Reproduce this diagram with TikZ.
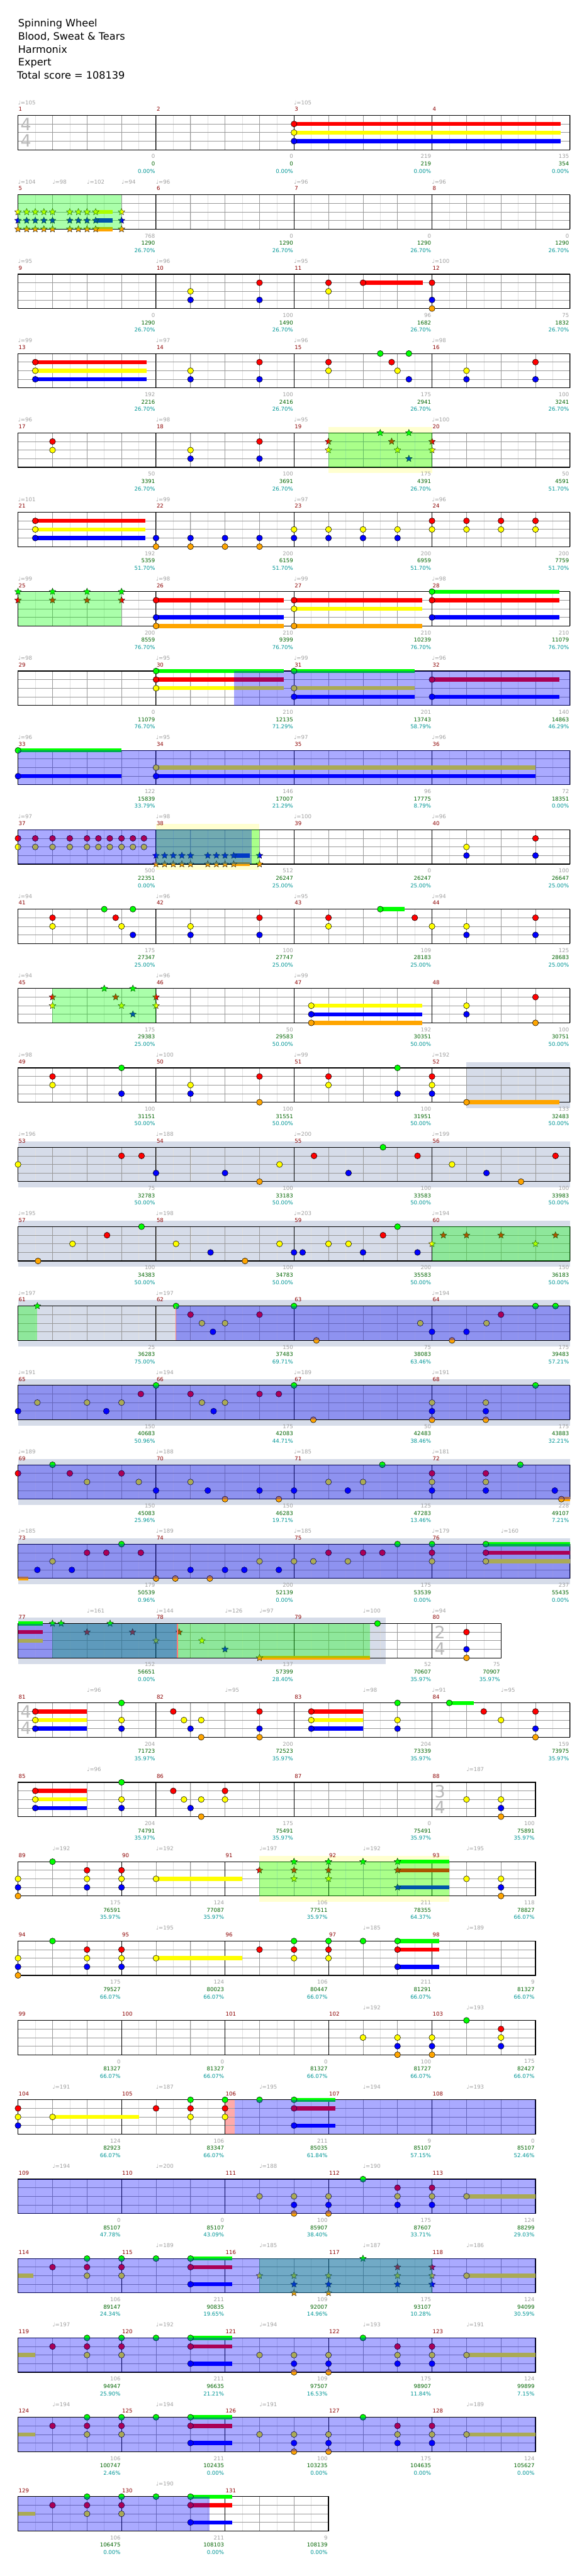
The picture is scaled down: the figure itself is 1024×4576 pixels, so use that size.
\documentclass[tikz,border=0pt]{standalone}
\usepackage{fontspec}
\setmainfont{DejaVu Sans}
\usetikzlibrary{shapes.geometric}

\definecolor{lane0}{RGB}{0,255,0}
\definecolor{lane1}{RGB}{255,0,0}
\definecolor{lane2}{RGB}{255,255,0}
\definecolor{lane3}{RGB}{0,0,255}
\definecolor{lane4}{RGB}{255,165,0}
\definecolor{subgrid}{RGB}{224,224,224}
\definecolor{maingrid}{RGB}{153,153,153}
\definecolor{fillband}{RGB}{214,220,233}
\definecolor{soloband}{RGB}{255,255,208}
\definecolor{actband}{RGB}{255,170,170}
\definecolor{numred}{RGB}{140,0,0}
\definecolor{gaingray}{RGB}{160,160,160}
\definecolor{scoregreen}{RGB}{0,100,0}
\definecolor{pctteal}{RGB}{0,150,150}

\newcommand\lblfont{\fontsize{9.6}{11}\selectfont}

\tikzset{
  row/.style={shift={(32pt,{-205pt-141pt*#1})}, x=61.25pt, y=-15.25pt},
  note/.style={draw=black, line width=0.6pt},
  starnote/.style={star, star points=5, star point ratio=2.2, minimum size=12.5pt,
    inner sep=0pt, draw=black, line width=0.4pt},
  sustain/.style={line width=7.2pt},
  mnum/.style={anchor=west, inner sep=0pt, xshift=1pt, yshift=11pt, text=numred, font=\lblfont},
  tempo/.style={anchor=west, inner sep=0pt, yshift=23pt, text=gaingray, font=\lblfont},
  gain/.style={anchor=east, inner sep=0pt, xshift=-1.5pt, yshift=-12pt, text=gaingray, font=\lblfont},
  total/.style={anchor=east, inner sep=0pt, xshift=-1.5pt, yshift=-25pt, text=scoregreen, font=\lblfont},
  pct/.style={anchor=east, inner sep=0pt, xshift=-1.5pt, yshift=-38pt, text=pctteal, font=\lblfont},
  tsig/.style={inner sep=0pt, xshift=14pt, text=gray!55, font=\fontsize{30}{30}\selectfont},
  title/.style={anchor=base west, inner sep=0pt, font=\fontsize{18}{22}\selectfont},
}

\newcommand\grid[2]{%
  \pgfmathtruncatemacro\nh{2*#1}
  \foreach \i in {1,...,\nh} \draw[subgrid, line width=0.6pt] (\i/2,0) -- (\i/2,4);
  \foreach \l in {1,2,3} \draw[maingrid, line width=0.8pt] (0,\l) -- (#1,\l);
  \foreach \i in {1,...,#1} \draw[maingrid, line width=0.8pt] (\i,0) -- (\i,4);
  \foreach \i in {#2} \draw[black, line width=1pt] (\i,0) -- (\i,4);
  \draw[black, line width=1.3pt] (0,0) rectangle (#1,4);
}
\newcommand\nt[2]{\foreach \nb in {#1} \foreach \nl in {#2}
  \draw[note, fill=lane\nl] (\nb,\nl) circle[radius=5.3pt];}
\newcommand\st[2]{\foreach \nb in {#1} \foreach \nl in {#2}
  \node[starnote, fill=lane\nl] at (\nb,\nl) {};}
\newcommand\sus[3]{\foreach \nl in {#3} \draw[sustain, lane\nl] (#1,\nl) -- (#2,\nl);}
\newcommand\band[3]{\fill[#3] (#1,-0.69) rectangle (#2,4.69);}
\newcommand\phrase[2]{\fill[lane0, opacity=0.333] (#1,0) rectangle (#2,4);}
\newcommand\od[2]{\fill[blue, opacity=0.333] (#1,0) rectangle (#2,4);}
\newcommand\actline[1]{\draw[actband!70!red, line width=1.5pt] (#1,0) -- (#1,4);}
\newcommand\tsig[3]{\node[tsig] at (#1,1.05) {#2}; \node[tsig] at (#1,2.95) {#3};}
\newcommand\tempos[1]{\foreach \pos/\bpm in {#1} \node[tempo] at (\pos,0) {♩=\bpm};}
\newcommand\meas[6]{%
  \node[mnum] (m#3) at (#1,0) {#3};
  \node[gain] (g#3) at (#2,4) {#4};
  \node[total] (t#3) at (#2,4) {#5};
  \node[pct] (p#3) at (#2,4) {#6};}

\begin{document}
\begin{tikzpicture}
\useasboundingbox (0,0) rectangle (1024pt,-4576pt);
\fill[white] (0,0) rectangle (1024pt,-4576pt);

\node[title] (song) at (32pt,-48pt) {Spinning Wheel};
\node[title] (artist) at (32pt,-71pt) {Blood, Sweat \& Tears};
\node[title] (charter) at (32pt,-94pt) {Harmonix};
\node[title] (level) at (32pt,-117pt) {Expert};
\node[title] (score) at (30pt,-140pt) {Total score = 108139};

% 1-4
\begin{scope}[row=0]
\grid{16}{4,8,12}
\tsig{0}{4}{4}
\sus{8}{15.72}{1,2,3}
\nt{8}{1,2,3}
\tempos{0/105,8/105}
\meas{0}{4}{1}{0}{0}{0.00\%}
\meas{4}{8}{2}{0}{0}{0.00\%}
\meas{8}{12}{3}{219}{219}{0.00\%}
\meas{12}{16}{4}{135}{354}{0.00\%}
\end{scope}

% 5-8
\begin{scope}[row=1]
\grid{16}{4,8,12}
\sus{2.25}{2.74}{2,3,4}
\st{0,0.25,0.5,0.75,1,1.5,1.75,2,2.25,3}{2,3,4}
\phrase{0}{3}
\tempos{0/104,1/98,2/102,3/94,4/96,8/96,12/96}
\meas{0}{4}{5}{768}{1290}{26.70\%}
\meas{4}{8}{6}{0}{1290}{26.70\%}
\meas{8}{12}{7}{0}{1290}{26.70\%}
\meas{12}{16}{8}{0}{1290}{26.70\%}
\end{scope}

% 9-12
\begin{scope}[row=2]
\grid{16}{4,8,12}
\sus{10}{11.74}{1}
\nt{5}{2,3} \nt{7}{1,3} \nt{9}{1,2} \nt{10}{1} \nt{12}{1,3,4}
\tempos{0/95,4/96,8/95,12/100}
\meas{0}{4}{9}{0}{1290}{26.70\%}
\meas{4}{8}{10}{100}{1490}{26.70\%}
\meas{8}{12}{11}{96}{1682}{26.70\%}
\meas{12}{16}{12}{75}{1832}{26.70\%}
\end{scope}

% 13-16
\begin{scope}[row=3]
\grid{16}{4,8,12}
\sus{0.5}{3.73}{1,2,3}
\nt{0.5}{1,2,3} \nt{5,13}{2,3} \nt{7,15}{1,3} \nt{9}{1,2}
\nt{10.5}{0} \nt{10.83}{1} \nt{11}{2} \nt{11.33}{0,3}
\tempos{0/99,4/97,8/96,12/98}
\meas{0}{4}{13}{192}{2216}{26.70\%}
\meas{4}{8}{14}{100}{2416}{26.70\%}
\meas{8}{12}{15}{175}{2941}{26.70\%}
\meas{12}{16}{16}{100}{3241}{26.70\%}
\end{scope}

% 17-20
\begin{scope}[row=4]
\band{9}{12}{soloband}
\grid{16}{4,8,12}
\nt{1}{1,2} \nt{5}{2,3} \nt{7}{1,3}
\st{9,12}{1,2} \st{10.5}{0} \st{10.83}{1} \st{11}{2} \st{11.33}{0,3}
\phrase{9}{12}
\tempos{0/96,4/98,8/95,12/100}
\meas{0}{4}{17}{50}{3391}{26.70\%}
\meas{4}{8}{18}{100}{3691}{26.70\%}
\meas{8}{12}{19}{175}{4391}{26.70\%}
\meas{12}{16}{20}{50}{4591}{51.70\%}
\end{scope}

% 21-24
\begin{scope}[row=5]
\grid{16}{4,8,12}
\sus{0.5}{3.7}{1,2,3}
\nt{0.5}{1,2,3} \nt{4,5,6,7}{3,4} \nt{8,9,10,11}{2,3} \nt{12,13,14,15}{1,2}
\tempos{0/101,4/99,8/97,12/96}
\meas{0}{4}{21}{192}{5359}{51.70\%}
\meas{4}{8}{22}{200}{6159}{51.70\%}
\meas{8}{12}{23}{200}{6959}{51.70\%}
\meas{12}{16}{24}{200}{7759}{51.70\%}
\end{scope}

% 25-28
\begin{scope}[row=6]
\grid{16}{4,8,12}
\sus{4}{7.7}{1,3,4} \sus{8}{11.71}{1,2,4} \sus{12}{15.7}{0,1,3}
\st{0,1,2,3}{0,1}
\nt{4}{1,3,4} \nt{8}{1,2,4} \nt{12}{0,1,3}
\phrase{0}{3}
\tempos{0/99,4/98,8/99,12/98}
\meas{0}{4}{25}{200}{8559}{76.70\%}
\meas{4}{8}{26}{210}{9399}{76.70\%}
\meas{8}{12}{27}{210}{10239}{76.70\%}
\meas{12}{16}{28}{210}{11079}{76.70\%}
\end{scope}

% 29-32
\begin{scope}[row=7]
\grid{16}{4,8,12}
\sus{4}{7.7}{0,1,2} \sus{8}{11.49}{0,2,3} \sus{12}{15.7}{1,3}
\nt{4}{0,1,2} \nt{8}{0,2,3} \nt{12}{1,3}
\od{6.26}{16}
\tempos{0/98,4/95,8/99,12/96}
\meas{0}{4}{29}{0}{11079}{76.70\%}
\meas{4}{8}{30}{210}{12135}{71.29\%}
\meas{8}{12}{31}{201}{13743}{58.79\%}
\meas{12}{16}{32}{140}{14863}{46.29\%}
\end{scope}

% 33-36
\begin{scope}[row=8]
\grid{16}{4,8,12}
\sus{0}{3}{0,3} \sus{4}{15}{2,3}
\nt{0}{0,3} \nt{4}{2,3}
\od{0}{16}
\tempos{0/96,4/95,8/97,12/96}
\meas{0}{4}{33}{122}{15839}{33.79\%}
\meas{4}{8}{34}{146}{17007}{21.29\%}
\meas{8}{12}{35}{96}{17775}{8.79\%}
\meas{12}{16}{36}{72}{18351}{0.00\%}
\end{scope}

% 37-40
\begin{scope}[row=9]
\band{4}{7}{soloband}
\grid{16}{4,8,12}
\nt{0,0.5,1,1.5,2,2.33,2.66,3,3.33,3.65}{1,2}
\sus{6.25}{6.72}{3,4}
\st{4,4.25,4.5,4.75,5,5.5,5.75,6,6.25,7}{3,4}
\nt{13}{2,3} \nt{15}{1,3}
\phrase{4}{7}
\od{0}{6.78}
\tempos{0/97,4/98,8/100,12/96}
\meas{0}{4}{37}{500}{22351}{0.00\%}
\meas{4}{8}{38}{512}{26247}{25.00\%}
\meas{8}{12}{39}{0}{26247}{25.00\%}
\meas{12}{16}{40}{100}{26647}{25.00\%}
\end{scope}

% 41-44
\begin{scope}[row=10]
\grid{16}{4,8,12}
\sus{10.5}{11.2}{0}
\nt{1,9}{1,2} \nt{2.5,10.5}{0} \nt{2.83,11.5}{1} \nt{3,12}{2} \nt{3.33}{0,3}
\nt{5,13}{2,3} \nt{7,15}{1,3}
\tempos{0/94,4/96,8/95,12/94}
\meas{0}{4}{41}{175}{27347}{25.00\%}
\meas{4}{8}{42}{100}{27747}{25.00\%}
\meas{8}{12}{43}{109}{28183}{25.00\%}
\meas{12}{16}{44}{125}{28683}{25.00\%}
\end{scope}

% 45-48
\begin{scope}[row=11]
\grid{16}{4,8,12}
\st{1,4}{1,2} \st{2.5}{0} \st{2.83}{1} \st{3}{2} \st{3.33}{0,3}
\phrase{1}{4}
\sus{8.5}{11.71}{2,3,4}
\nt{8.5}{2,3,4} \nt{13}{2,3} \nt{15}{1,4}
\tempos{0/94,4/96,8/99}
\meas{0}{4}{45}{175}{29383}{25.00\%}
\meas{4}{8}{46}{50}{29583}{50.00\%}
\meas{8}{12}{47}{192}{30351}{50.00\%}
\meas{12}{16}{48}{100}{30751}{50.00\%}
\end{scope}

% 49-52
\begin{scope}[row=12]
\band{13}{16}{fillband}
\grid{16}{4,8,12}
\sus{13}{15.7}{4}
\nt{1,9}{1,2} \nt{3,11}{0,3} \nt{5}{2,3} \nt{7}{1,4} \nt{12}{1,2,3} \nt{13}{4}
\tempos{0/98,4/100,8/99,12/192}
\meas{0}{4}{49}{100}{31151}{50.00\%}
\meas{4}{8}{50}{100}{31551}{50.00\%}
\meas{8}{12}{51}{100}{31951}{50.00\%}
\meas{12}{16}{52}{133}{32483}{50.00\%}
\end{scope}

% 53-56
\begin{scope}[row=13]
\band{0}{16}{fillband}
\grid{16}{4,8,12}
\nt{0,7.58,12.58}{2} \nt{3,3.58,8.58,11.58,15.58}{1} \nt{4,6,9.58,13.58}{3}
\nt{7,14.58}{4} \nt{10.58}{0}
\tempos{0/196,4/188,8/200,12/199}
\meas{0}{4}{53}{75}{32783}{50.00\%}
\meas{4}{8}{54}{100}{33183}{50.00\%}
\meas{8}{12}{55}{100}{33583}{50.00\%}
\meas{12}{16}{56}{100}{33983}{50.00\%}
\end{scope}

% 57-60
\begin{scope}[row=14]
\band{0}{16}{fillband}
\grid{16}{4,8,12}
\nt{0.58,6.58}{4} \nt{1.58,4.58,7.58,9,9.58}{2} \nt{2.58,10.58}{1}
\nt{3.58,11}{0} \nt{5.58,8,8.25,10,11.58}{3}
\st{12,15}{2} \st{12.33,13,14,15.58}{1}
\phrase{12}{16}
\tempos{0/195,4/198,8/203,12/194}
\meas{0}{4}{57}{100}{34383}{50.00\%}
\meas{4}{8}{58}{100}{34783}{50.00\%}
\meas{8}{12}{59}{200}{35583}{50.00\%}
\meas{12}{16}{60}{150}{36183}{50.00\%}
\end{scope}

% 61-64
\begin{scope}[row=15]
\band{0}{16}{fillband}
\grid{16}{4,8,12}
\st{0.56}{0}
\nt{4.58,8,15,15.58}{0} \nt{5,7,14}{1} \nt{5.33,6,11.66,13.58}{2}
\nt{5.65,12,13}{3} \nt{8.65,12.58}{4}
\phrase{0}{0.56}
\od{4.58}{16}
\actline{4.58}
\tempos{0/197,4/197,12/194}
\meas{0}{4}{61}{25}{36283}{75.00\%}
\meas{4}{8}{62}{150}{37483}{69.71\%}
\meas{8}{12}{63}{75}{38083}{63.46\%}
\meas{12}{16}{64}{175}{39483}{57.21\%}
\end{scope}

% 65-68
\begin{scope}[row=16]
\band{0}{16}{fillband}
\grid{16}{4,8,12}
\nt{0,2.56,5.67,12,13.56}{3} \nt{0.56,2,3,5.33,6,12,13.56}{2}
\nt{3.56,5,7,7.56}{1} \nt{4,8,15}{0} \nt{8.56,12,13.56}{4}
\od{0}{16}
\tempos{0/191,4/194,8/189,12/191}
\meas{0}{4}{65}{150}{40683}{50.96\%}
\meas{4}{8}{66}{175}{42083}{44.71\%}
\meas{8}{12}{67}{50}{42483}{38.46\%}
\meas{12}{16}{68}{175}{43883}{32.21\%}
\end{scope}

% 69-72
\begin{scope}[row=17]
\band{0}{16}{fillband}
\grid{16}{4,8,12}
\sus{15.75}{16}{4}
\nt{0,1.5,3,12,13.56}{1} \nt{1,10.56,14.56}{0} \nt{2,3.5,5,9,10,12,13.56}{2}
\nt{4,5.5,7,8,9.56,12,13.56,15.56}{3} \nt{6,7.56,15.75}{4}
\od{0}{16}
\tempos{0/189,4/188,8/185,12/181}
\meas{0}{4}{69}{150}{45083}{25.96\%}
\meas{4}{8}{70}{150}{46283}{19.71\%}
\meas{8}{12}{71}{125}{47283}{13.46\%}
\meas{12}{16}{72}{228}{49107}{7.21\%}
\end{scope}

% 73-76
\begin{scope}[row=18]
\band{0}{16}{fillband}
\grid{16}{4,8,12}
\sus{0}{0.29}{4} \sus{13.56}{16}{0,1,2}
\nt{3,11,12,13.56}{0} \nt{2,2.56,3.56,9,10,10.56,12,13.56}{1}
\nt{1,7,8,8.56,9.56,12,13.56}{2} \nt{0.56,1.56,5,6,6.56,7.56}{3} \nt{4,4.56,5.56}{4}
\od{0}{16}
\tempos{0/185,4/189,8/185,12/179,14/160}
\meas{0}{4}{73}{179}{50539}{0.96\%}
\meas{4}{8}{74}{200}{52139}{0.00\%}
\meas{8}{12}{75}{175}{53539}{0.00\%}
\meas{12}{16}{76}{237}{55435}{0.00\%}
\end{scope}

% 77-80
\begin{scope}[row=19]
\band{0}{10.66}{fillband}
\grid{14}{4,8,12}
\tsig{12}{2}{4}
\sus{0}{0.71}{0,1,2} \sus{7}{10.2}{4}
\st{1,1.25,2.67}{0} \st{2,3.32,4.67}{1} \st{4,5.33}{2} \st{6}{3} \st{7}{4}
\nt{10.42}{0} \nt{13}{1,3,4}
\phrase{1}{10.2}
\od{0}{4.62}
\actline{4.62}
\tempos{2/161,4/144,6/126,7/97,10/100,12/94}
\meas{0}{4}{77}{152}{56651}{0.00\%}
\meas{4}{8}{78}{137}{57399}{28.40\%}
\meas{8}{12}{79}{52}{70607}{35.97\%}
\meas{12}{14}{80}{75}{70907}{35.97\%}
\end{scope}

% 81-84
\begin{scope}[row=20]
\grid{16}{4,8,12}
\tsig{0}{4}{4}
\sus{0.5}{2}{1,2,3} \sus{8.5}{10}{1,2,3} \sus{12.5}{13.21}{0}
\nt{0.5,8.5}{1,2,3} \nt{3,11}{0,2,3} \nt{4.5,13.5}{1} \nt{4.81,14}{2} \nt{5}{3}
\nt{5.31}{2,4} \nt{7,15}{1,3,4} \nt{12.5}{0}
\tempos{2/96,6/95,10/98,12/91,14/95}
\meas{0}{4}{81}{204}{71723}{35.97\%}
\meas{4}{8}{82}{200}{72523}{35.97\%}
\meas{8}{12}{83}{204}{73339}{35.97\%}
\meas{12}{16}{84}{159}{73975}{35.97\%}
\end{scope}

% 85-88
\begin{scope}[row=21]
\grid{15}{4,8,12}
\tsig{12}{3}{4}
\sus{0.5}{2}{1,2,3}
\nt{0.5}{1,2,3} \nt{3}{0,2,3} \nt{4.5}{1} \nt{4.81,13}{2} \nt{5}{3} \nt{5.31}{2,4}
\nt{6}{1,2} \nt{14}{2,3,4}
\tempos{2/96,13/187}
\meas{0}{4}{85}{204}{74791}{35.97\%}
\meas{4}{8}{86}{175}{75491}{35.97\%}
\meas{8}{12}{87}{0}{75491}{35.97\%}
\meas{12}{15}{88}{100}{75891}{35.97\%}
\end{scope}

% 89-93
\begin{scope}[row=22]
\band{7}{12.5}{soloband}
\grid{15}{3,6,9,12}
\sus{4}{6.5}{2} \sus{11}{12.5}{0,1,3}
\nt{0}{2,3,4} \nt{1}{0} \nt{2,3}{1,2,3} \nt{4,13}{2} \nt{14}{2,3,4}
\st{7}{1} \st{8,9}{0,1,2} \st{10}{0} \st{11}{0,1,3}
\phrase{7}{12.5}
\tempos{1/192,4/192,7/197,10/192,13/195}
\meas{0}{3}{89}{175}{76591}{35.97\%}
\meas{3}{6}{90}{124}{77087}{35.97\%}
\meas{6}{9}{91}{106}{77511}{35.97\%}
\meas{9}{12}{92}{211}{78355}{64.37\%}
\meas{12}{15}{93}{118}{78827}{66.07\%}
\end{scope}

% 94-98
\begin{scope}[row=23]
\grid{15}{3,6,9,12}
\sus{4}{6.5}{2} \sus{11}{12.21}{0,1,3}
\nt{0}{2,3,4} \nt{1,10}{0} \nt{2,3}{1,2,3} \nt{4}{2} \nt{7}{1} \nt{8,9}{0,1,2} \nt{11}{0,1,3}
\tempos{4/195,10/185,13/189}
\meas{0}{3}{94}{175}{79527}{66.07\%}
\meas{3}{6}{95}{124}{80023}{66.07\%}
\meas{6}{9}{96}{106}{80447}{66.07\%}
\meas{9}{12}{97}{211}{81291}{66.07\%}
\meas{12}{15}{98}{9}{81327}{66.07\%}
\end{scope}

% 99-103
\begin{scope}[row=24]
\grid{15}{3,6,9,12}
\nt{10}{2} \nt{11,12}{2,3,4} \nt{13}{0} \nt{14}{1,2,3}
\tempos{10/192,13/193}
\meas{0}{3}{99}{0}{81327}{66.07\%}
\meas{3}{6}{100}{0}{81327}{66.07\%}
\meas{6}{9}{101}{0}{81327}{66.07\%}
\meas{9}{12}{102}{100}{81727}{66.07\%}
\meas{12}{15}{103}{175}{82427}{66.07\%}
\end{scope}

% 104-108
\begin{scope}[row=25]
\fill[actband] (6,0) rectangle (6.28,4);
\grid{15}{3,6,9,12}
\sus{1}{3.5}{2} \sus{8}{9.2}{0,1,3}
\nt{0}{1,2,3} \nt{1}{2} \nt{4}{1} \nt{5,6}{0,1,2} \nt{7}{0} \nt{8}{0,1,3}
\od{6.28}{15}
\tempos{1/191,4/187,7/195,10/194,13/193}
\meas{0}{3}{104}{124}{82923}{66.07\%}
\meas{3}{6}{105}{106}{83347}{66.07\%}
\meas{6}{9}{106}{211}{85035}{61.84\%}
\meas{9}{12}{107}{9}{85107}{57.15\%}
\meas{12}{15}{108}{0}{85107}{52.46\%}
\end{scope}

% 109-113
\begin{scope}[row=26]
\grid{15}{3,6,9,12}
\sus{13}{15}{2}
\nt{7,13}{2} \nt{8,9}{2,3,4} \nt{10}{0} \nt{11,12}{1,2,3}
\od{0}{15}
\tempos{1/194,4/200,7/188,10/190}
\meas{0}{3}{109}{0}{85107}{47.78\%}
\meas{3}{6}{110}{0}{85107}{43.09\%}
\meas{6}{9}{111}{100}{85907}{38.40\%}
\meas{9}{12}{112}{175}{87607}{33.71\%}
\meas{12}{15}{113}{124}{88299}{29.03\%}
\end{scope}

% 114-118
\begin{scope}[row=27]
\grid{15}{3,6,9,12}
\sus{0}{0.45}{2} \sus{5}{6.21}{0,1,3} \sus{13}{15}{2}
\nt{1}{1} \nt{2,3}{0,1,2} \nt{4}{0} \nt{5}{0,1,3} \nt{13}{2}
\st{7}{2} \st{8,9}{2,3,4} \st{10}{0} \st{11,12}{1,2,3}
\phrase{7}{12}
\od{0}{15}
\tempos{4/189,7/185,10/187,13/186}
\meas{0}{3}{114}{106}{89147}{24.34\%}
\meas{3}{6}{115}{211}{90835}{19.65\%}
\meas{6}{9}{116}{109}{92007}{14.96\%}
\meas{9}{12}{117}{175}{93107}{10.28\%}
\meas{12}{15}{118}{124}{94099}{30.59\%}
\end{scope}

% 119-123
\begin{scope}[row=28]
\grid{15}{3,6,9,12}
\sus{0}{0.5}{2} \sus{5}{6.21}{0,1,3} \sus{13}{15}{2}
\nt{1}{1} \nt{2,3}{0,1,2} \nt{4,10}{0} \nt{5}{0,1,3} \nt{7,13}{2} \nt{8,9}{2,3,4} \nt{11,12}{1,2,3}
\od{0}{15}
\tempos{1/197,4/192,7/194,10/193,13/191}
\meas{0}{3}{119}{106}{94947}{25.90\%}
\meas{3}{6}{120}{211}{96635}{21.21\%}
\meas{6}{9}{121}{109}{97507}{16.53\%}
\meas{9}{12}{122}{175}{98907}{11.84\%}
\meas{12}{15}{123}{124}{99899}{7.15\%}
\end{scope}

% 124-128
\begin{scope}[row=29]
\grid{15}{3,6,9,12}
\sus{0}{0.5}{2} \sus{5}{6.21}{0,1,3} \sus{13}{15}{2}
\nt{1}{1} \nt{2,3}{0,1,2} \nt{4,10}{0} \nt{5}{0,1,3} \nt{7,13}{2} \nt{8,9}{2,3,4} \nt{11,12}{1,2,3}
\od{0}{15}
\tempos{1/194,4/194,7/191,13/189}
\meas{0}{3}{124}{106}{100747}{2.46\%}
\meas{3}{6}{125}{211}{102435}{0.00\%}
\meas{6}{9}{126}{100}{103235}{0.00\%}
\meas{9}{12}{127}{175}{104635}{0.00\%}
\meas{12}{15}{128}{124}{105627}{0.00\%}
\end{scope}

% 129-131
\begin{scope}[row=30]
\grid{9}{3,6}
\sus{0}{0.5}{2} \sus{5}{6.21}{0,1,3}
\nt{1}{1} \nt{2,3}{0,1,2} \nt{4}{0} \nt{5}{0,1,3}
\od{0}{5.55}
\tempos{4/190}
\meas{0}{3}{129}{106}{106475}{0.00\%}
\meas{3}{6}{130}{211}{108103}{0.00\%}
\meas{6}{9}{131}{9}{108139}{0.00\%}
\end{scope}
\end{tikzpicture}
\end{document}
